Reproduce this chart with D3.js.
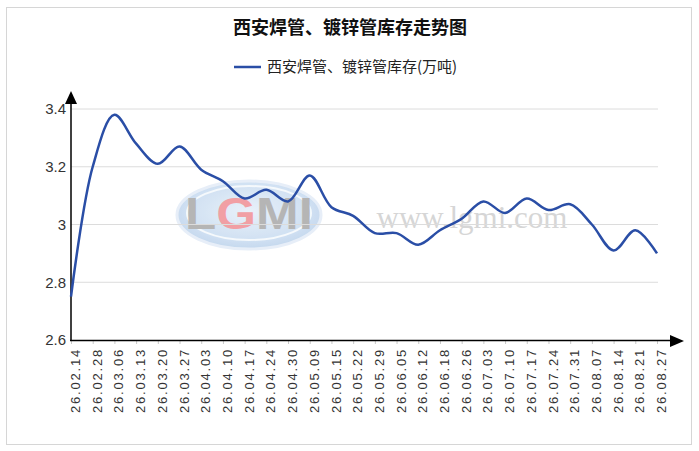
<!DOCTYPE html>
<html>
<head>
<meta charset="utf-8">
<script src="https://cdn.jsdelivr.net/npm/d3@7"></script>
<style>
  body { margin: 0; background: #fff; }
  svg { display: block; }
</style>
</head>
<body>
<div id="chart"></div>
<script>
// data
let dates = ["26.02.14","26.02.28","26.03.06","26.03.13","26.03.20","26.03.27","26.04.03",
  "26.04.10","26.04.17","26.04.24","26.04.30","26.05.09","26.05.15","26.05.22","26.05.29",
  "26.06.05","26.06.12","26.06.18","26.06.26","26.07.03","26.07.10","26.07.17","26.07.24",
  "26.07.31","26.08.07","26.08.14","26.08.21","26.08.27"];
let stock = [2.75, 3.20, 3.38, 3.28, 3.21, 3.27, 3.19, 3.15, 3.09, 3.12, 3.08, 3.17, 3.06, 3.03,
  2.97, 2.97, 2.93, 2.98, 3.02, 3.08, 3.04, 3.09, 3.05, 3.07, 3.00, 2.91, 2.98, 2.90];
let yTicks = [2.6, 2.8, 3.0, 3.2, 3.4];

let title = "西安焊管、镀锌管库存走势图";
let seriesName = "西安焊管、镀锌管库存(万吨)";

let W = 699, H = 451;
let cjk = "'Noto Sans CJK SC', sans-serif";
let num = "'Liberation Sans', Arial, sans-serif";
let lineColor = "#2a4ea6";

let svg = d3.select("#chart").append("svg")
  .attr("width", W)
  .attr("height", H);

// outer frame
svg.append("rect")
  .attr("x", 6.5).attr("y", 7.5)
  .attr("width", 685).attr("height", 437)
  .attr("fill", "none")
  .attr("stroke", "#d6d6d6");

let x = d3.scalePoint().domain(dates).range([71, 657]);
let y = d3.scaleLinear().domain([2.6, 3.4]).range([340, 109]);

// watermark
let wm = svg.append("g").attr("opacity", 0.85);
let grad = svg.append("defs").append("radialGradient")
  .attr("id", "wmgrad").attr("cx", "50%").attr("cy", "45%").attr("r", "60%");
grad.append("stop").attr("offset", "0%").attr("stop-color", "#e6eff9");
grad.append("stop").attr("offset", "70%").attr("stop-color", "#c9dcf1");
grad.append("stop").attr("offset", "100%").attr("stop-color", "#b5cde9");
wm.append("ellipse")
  .attr("cx", 249).attr("cy", 215).attr("rx", 72).attr("ry", 34)
  .attr("fill", "url(#wmgrad)")
  .attr("stroke", "#e3ecf7").attr("stroke-width", 3);
wm.append("ellipse")
  .attr("cx", 249).attr("cy", 213).attr("rx", 62).attr("ry", 27)
  .attr("fill", "none")
  .attr("stroke", "#f4f8fc").attr("stroke-width", 2);
let logo = wm.append("text")
  .attr("x", 249).attr("y", 229)
  .attr("text-anchor", "middle")
  .attr("font-family", num)
  .attr("font-weight", "bold")
  .attr("font-size", 44)
  .attr("textLength", 128)
  .attr("lengthAdjust", "spacingAndGlyphs")
  .attr("fill", "#a9a9a9");
logo.append("tspan").text("L");
logo.append("tspan").text("G").attr("fill", "#ef8f95");
logo.append("tspan").text("MI");
wm.append("text")
  .attr("x", 472).attr("y", 228)
  .attr("text-anchor", "middle")
  .attr("font-family", "'Liberation Serif', 'DejaVu Serif', serif")
  .attr("font-size", 31)
  .attr("fill", "#cfcfcf")
  .text("www.lgmi.com");

// gridlines
svg.append("g").selectAll("line")
  .data(yTicks.filter(d => d > 2.6))
  .enter().append("line")
    .attr("x1", 71).attr("x2", 658)
    .attr("y1", d => y(d)).attr("y2", d => y(d))
    .attr("stroke", "#dcdcdc")
    .attr("stroke-width", 1);

// y axis
let yAxis = svg.append("g")
  .attr("transform", "translate(71,0)")
  .call(d3.axisLeft(y).tickValues(yTicks).tickSize(0).tickPadding(5)
    .tickFormat(d => d3.format("~g")(d)));
yAxis.select(".domain").remove();
yAxis.selectAll("text")
  .attr("font-family", num)
  .attr("font-size", 15)
  .attr("fill", "#333");

// x axis
let xAxis = svg.append("g")
  .attr("transform", "translate(0,340)")
  .call(d3.axisBottom(x).tickSize(4).tickPadding(0));
xAxis.select(".domain").remove();
xAxis.selectAll(".tick line").attr("stroke", "#c8c8c8");
xAxis.selectAll("text")
  .attr("font-family", num)
  .attr("font-size", 13)
  .attr("letter-spacing", 1.8)
  .attr("fill", "#333")
  .attr("text-anchor", "end")
  .attr("dy", "0.35em")
  .attr("transform", "translate(0,8) rotate(-90)");

// axis lines with arrows
svg.append("line")
  .attr("x1", 71).attr("x2", 71)
  .attr("y1", 341).attr("y2", 100)
  .attr("stroke", "#000").attr("stroke-width", 1.5);
svg.append("path")
  .attr("d", "M71,91 L65,104 L77,104 Z")
  .attr("fill", "#000");
svg.append("line")
  .attr("x1", 70).attr("x2", 672)
  .attr("y1", 340.5).attr("y2", 340.5)
  .attr("stroke", "#000").attr("stroke-width", 1.5);
svg.append("path")
  .attr("d", "M684,341 L670,335 L670,347 Z")
  .attr("fill", "#000");

// line
let line = d3.line()
  .x((d, i) => x(dates[i]))
  .y(d => y(d))
  .curve(d3.curveCatmullRom.alpha(0.5));
svg.append("path")
  .datum(stock)
  .attr("d", line)
  .attr("fill", "none")
  .attr("stroke", lineColor)
  .attr("stroke-width", 2.5);

// title
svg.append("text")
  .attr("x", 350).attr("y", 34)
  .attr("text-anchor", "middle")
  .attr("font-family", cjk)
  .attr("font-weight", "bold")
  .attr("font-size", 18)
  .attr("fill", "#111")
  .text(title);

// legend
svg.append("line")
  .attr("x1", 234).attr("x2", 261)
  .attr("y1", 67).attr("y2", 67)
  .attr("stroke", lineColor).attr("stroke-width", 2.5);
svg.append("text")
  .attr("x", 267).attr("y", 72)
  .attr("font-family", cjk)
  .attr("font-size", 15)
  .attr("fill", "#222")
  .text(seriesName);
</script>
</body>
</html>
